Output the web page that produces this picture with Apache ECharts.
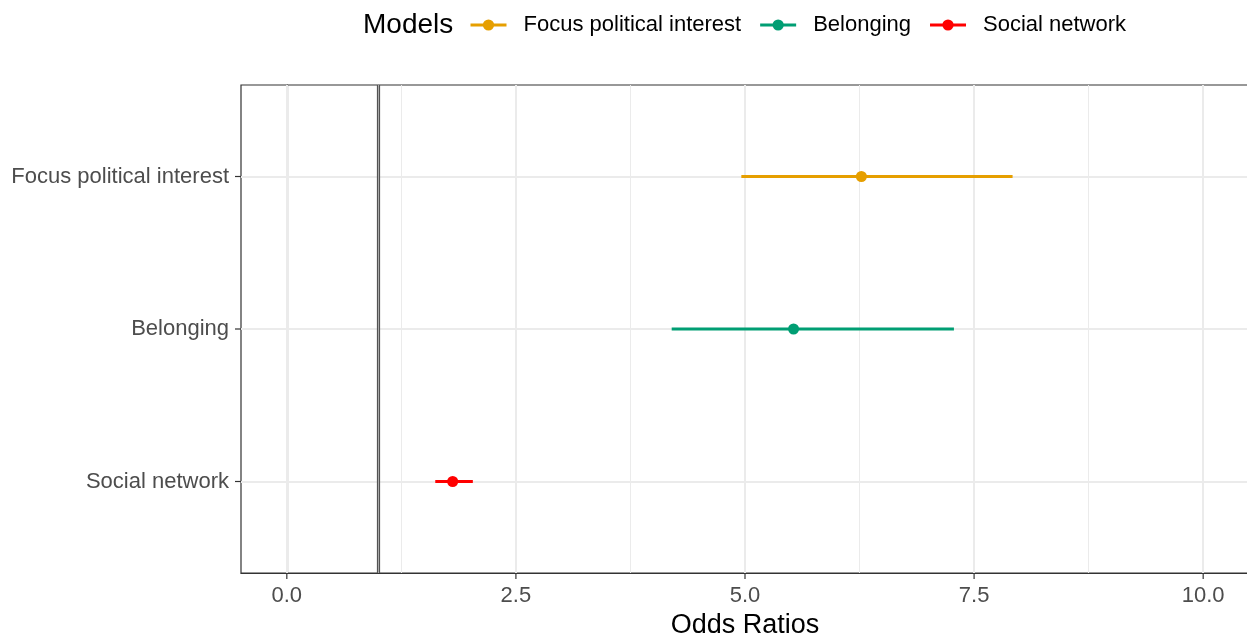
<!DOCTYPE html>
<html>
<head>
<meta charset="utf-8">
<script src="https://cdn.jsdelivr.net/npm/echarts@6/dist/echarts.min.js"></script>
<style>
html,body{margin:0;padding:0;background:#fff;}
#chart{width:1247px;height:637px;}
</style>
</head>
<body>
<div id="chart"></div>
<script>
// Data
const models = ['Focus political interest', 'Belonging', 'Social network'];
const estimates = [6.27, 5.53, 1.81];
const lowerCI = [4.96, 4.20, 1.62];
const upperCI = [7.92, 7.28, 2.03];
const yCategories = ['Social network', 'Belonging', 'Focus political interest']; // bottom to top
const xTicks = [0, 2.5, 5, 7.5, 10];
const xMinorTicks = [1.25, 3.75, 6.25, 8.75];
const yTicks = [1, 2, 3];
const refLine = 1;
const colors = ['#E69F00', '#009E73', '#FF0000'];

const yPos = name => yCategories.indexOf(name) + 1;

const chart = echarts.init(document.getElementById('chart'), null, {renderer: 'canvas'});

const series = [];
// gridlines
series.push({
  type: 'line', data: [], silent: true, z: 1,
  markLine: {
    silent: true, symbol: 'none', label: {show: false},
    animation: false,
    data: [
      ...xMinorTicks.map(v => ({xAxis: v, lineStyle: {color: '#EBEBEB', width: 1, type: 'solid'}})),
      ...xTicks.map(v => ({xAxis: v, lineStyle: {color: '#EBEBEB', width: 2, type: 'solid'}})),
      ...yTicks.map(v => ({yAxis: v, lineStyle: {color: '#EBEBEB', width: 2, type: 'solid'}}))
    ]
  }
});
// reference line
series.push({
  type: 'line', data: [], silent: true, z: 2,
  markLine: {
    silent: true, symbol: 'none', label: {show: false}, animation: false,
    data: [
      {xAxis: refLine, lineStyle: {color: '#4A4A4A', width: 3.2, type: 'solid'}},
      {xAxis: refLine, lineStyle: {color: '#A8A8A8', width: 1.2, type: 'solid'}}
    ]
  }
});
models.forEach((m, i) => {
  const y = yPos(m);
  series.push({
    name: m, type: 'line', z: 5,
    symbol: 'circle', symbolSize: 11,
    color: colors[i],
    lineStyle: {width: 3, color: colors[i]},
    itemStyle: {color: colors[i]},
    animation: false,
    data: [
      {value: [lowerCI[i], y], symbolSize: 0},
      {value: [estimates[i], y]},
      {value: [upperCI[i], y], symbolSize: 0}
    ]
  });
});

chart.setOption({
  animation: false,
  backgroundColor: '#ffffff',
  title: {
    text: 'Models', left: 358, top: 6,
    textStyle: {fontFamily: 'Liberation Sans', fontSize: 28, fontWeight: 'normal', color: '#000'}
  },
  legend: {
    data: models, left: 464, top: 9,
    itemWidth: 36, itemHeight: 14, itemGap: 17.5,
    lineStyle: {width: 3},
    textStyle: {fontFamily: 'Liberation Sans', fontSize: 22, color: '#000', padding: [0, 0, 0, 12]}
  },
  grid: {left: 241, right: -2, top: 85, bottom: 64, show: true, borderColor: '#333333', borderWidth: 1.2,
    backgroundColor: 'transparent', containLabel: false, outerBoundsMode: 'none'},
  xAxis: {
    type: 'value', min: -0.5, max: 10.5,
    name: 'Odds Ratios', nameLocation: 'middle', nameGap: 39,
    nameTextStyle: {fontFamily: 'Liberation Sans', fontSize: 27, color: '#000'},
    axisLine: {show: true, lineStyle: {color: '#333', width: 1.2}},
    axisTick: {show: false},
    axisLabel: {customValues: xTicks, formatter: v => v.toFixed(1), margin: 12,
      fontFamily: 'Liberation Sans', fontSize: 22, color: '#4D4D4D'},
    splitLine: {show: false}
  },
  yAxis: {
    type: 'value', min: 0.4, max: 3.6,
    axisLine: {show: true, lineStyle: {color: '#333', width: 1.2}},
    axisTick: {show: false},
    axisLabel: {customValues: yTicks, formatter: v => yCategories[Math.round(v) - 1] || '', margin: 12,
      fontFamily: 'Liberation Sans', fontSize: 22, color: '#4D4D4D'},
    splitLine: {show: false}
  },
  series: series
});

// axis tick marks placed through the library's scales
const tickLen = 6;
const tickStyle = {stroke: '#333333', lineWidth: 1.2};
const ticks = [];
xTicks.forEach(v => {
  const p = chart.convertToPixel({gridIndex: 0}, [v, 0.4]);
  ticks.push({type: 'line', silent: true, shape: {x1: p[0], y1: p[1], x2: p[0], y2: p[1] + tickLen}, style: tickStyle});
});
yTicks.forEach(v => {
  const p = chart.convertToPixel({gridIndex: 0}, [-0.5, v]);
  ticks.push({type: 'line', silent: true, shape: {x1: p[0] - tickLen, y1: p[1], x2: p[0], y2: p[1]}, style: tickStyle});
});
chart.setOption({graphic: ticks});
</script>
</body>
</html>
